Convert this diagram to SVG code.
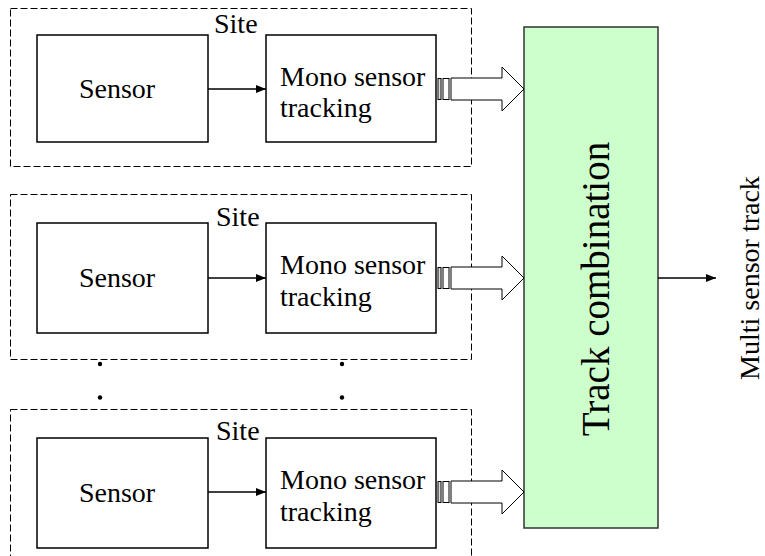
<svg xmlns="http://www.w3.org/2000/svg" width="765" height="556" viewBox="0 0 765 556">
<defs>
<marker id="ah" viewBox="0 0 10 10" refX="10" refY="5" markerWidth="10" markerHeight="10" markerUnits="userSpaceOnUse" orient="auto">
<path d="M0,1 L10,5 L0,9 Z" fill="#000"/>
</marker>
<g id="fat">
<rect x="0" y="-10.5" width="3" height="21" fill="#ddd" stroke="#000" stroke-width="1"/>
<rect x="5" y="-10.5" width="6" height="21" fill="#fff" stroke="#000" stroke-width="1"/>
<path d="M13,-11 L64,-11 L64,-22 L86,0 L64,22 L64,11 L13,11 Z" fill="#fff" stroke="#000" stroke-width="1"/>
</g>
</defs>
<style>
.site{fill:none;stroke:#000;stroke-width:1;stroke-dasharray:7 3}
.box{fill:#fff;stroke:#000;stroke-width:1.5}
.t{font-family:"Liberation Serif","Times New Roman",serif;font-size:28px;fill:#000}
.c{stroke:#000;stroke-width:1.5;fill:none}
</style>
<rect width="765" height="556" fill="#fff"/>

<g id="site1">
<rect class="site" x="10.5" y="8.5" width="461" height="158"/>
<text class="t" x="214" y="33">Site</text>
</g>
<g id="sensor1">
<rect class="box" x="37" y="35" width="171" height="107"/>
<text class="t" x="117" y="98" text-anchor="middle">Sensor</text>
</g>
<g id="mono1">
<rect class="box" x="266" y="35" width="170" height="107"/>
<text class="t" x="280" y="86">Mono sensor</text>
<text class="t" x="280" y="117">tracking</text>
</g>

<g id="site2">
<rect class="site" x="10.5" y="194.5" width="461" height="165"/>
<text class="t" x="216" y="226">Site</text>
</g>
<g id="sensor2">
<rect class="box" x="37" y="223" width="171" height="110"/>
<text class="t" x="117" y="287" text-anchor="middle">Sensor</text>
</g>
<g id="mono2">
<rect class="box" x="266" y="223" width="170" height="110"/>
<text class="t" x="280" y="274">Mono sensor</text>
<text class="t" x="280" y="306">tracking</text>
</g>

<g id="ellipsis">
<circle cx="100" cy="364" r="2.2"/>
<circle cx="100" cy="397.5" r="2.2"/>
<circle cx="342" cy="364" r="2.2"/>
<circle cx="342" cy="397.5" r="2.2"/>
</g>

<g id="site3">
<rect class="site" x="10.5" y="409.5" width="461" height="170"/>
<text class="t" x="216" y="440">Site</text>
</g>
<g id="sensor3">
<rect class="box" x="37" y="438" width="171" height="110"/>
<text class="t" x="117" y="502" text-anchor="middle">Sensor</text>
</g>
<g id="mono3">
<rect class="box" x="266" y="438" width="170" height="110"/>
<text class="t" x="280" y="489">Mono sensor</text>
<text class="t" x="280" y="521">tracking</text>
</g>

<g id="trackcomb">
<rect x="524" y="27" width="134" height="501" fill="#ccffcc" stroke="#333" stroke-width="1.5"/>
<text class="t" style="font-size:39px" transform="translate(609,289) rotate(-90)" text-anchor="middle">Track combination</text>
</g>

<g id="output">
<text class="t" transform="translate(759,278) rotate(-90)" text-anchor="middle">Multi sensor track</text>
</g>

<g id="connectors">
<line class="c" x1="208" y1="89" x2="266" y2="89" marker-end="url(#ah)"/>
<line class="c" x1="208" y1="278" x2="266" y2="278" marker-end="url(#ah)"/>
<line class="c" x1="208" y1="492" x2="266" y2="492" marker-end="url(#ah)"/>
<use href="#fat" x="438" y="89"/>
<use href="#fat" x="438" y="278"/>
<use href="#fat" x="438" y="492"/>
<line class="c" x1="658" y1="278" x2="716" y2="278" stroke-width="1.2" marker-end="url(#ah)"/>
</g>
</svg>
